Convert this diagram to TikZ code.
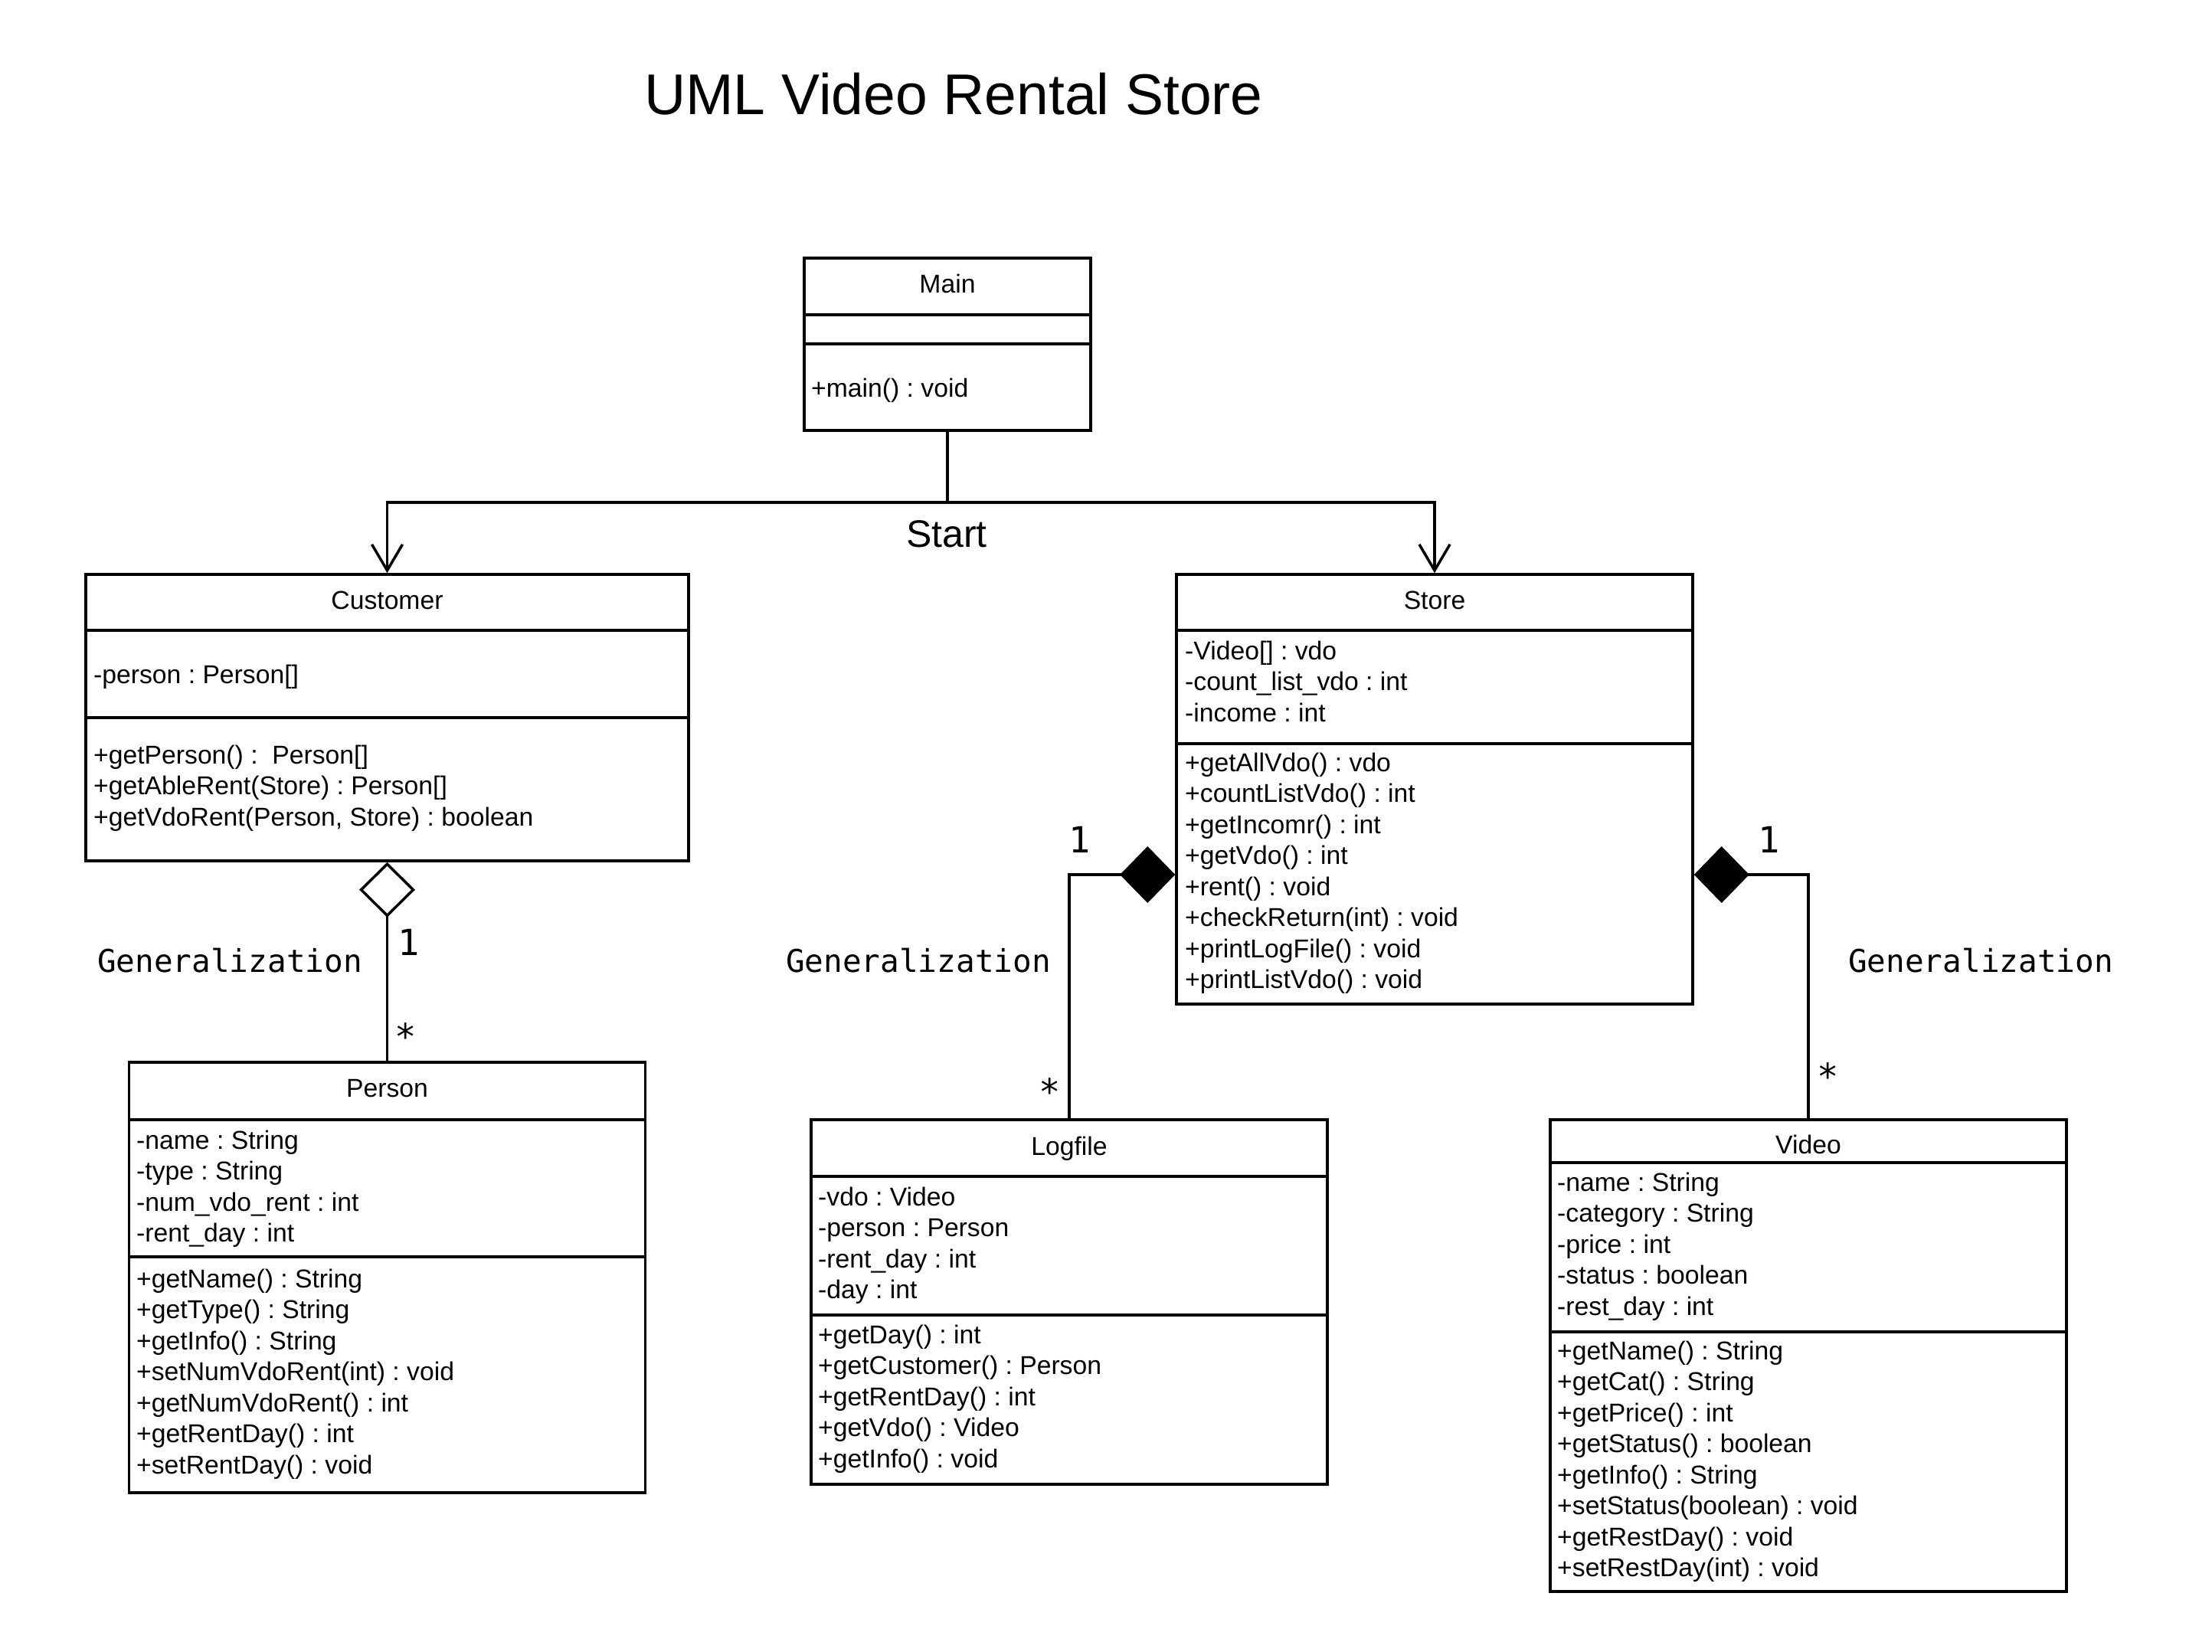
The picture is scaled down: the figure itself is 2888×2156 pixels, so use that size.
\documentclass[tikz,border=0pt]{standalone}
\usepackage{fontspec}
\setmainfont{Liberation Sans}
\newfontfamily\umlmono{DejaVu Sans Mono}
\usetikzlibrary{arrows.meta}
\newcommand{\umlstrut}{\rule[-0.2em]{0pt}{1.1em}}
\frenchspacing
\begin{document}
\begin{tikzpicture}[x=1pt,y=-1pt,
  classbox/.style={draw, line width=3.5pt, inner sep=0pt, fill=white},
  divider/.style={line width=3.5pt},
  conn/.style={line width=3.5pt},
  cname/.style={font=\fontsize{33.7}{40.5}\selectfont, anchor=base, inner sep=0pt},
  members/.style={font=\fontsize{33.7}{40.5}\selectfont, align=left, anchor=west, inner sep=0pt, yshift=-3.5pt,
    execute at begin node=\umlstrut, execute at end node=\umlstrut},
  mult/.style={font=\umlmono\fontsize{47}{50}\selectfont, anchor=base, inner sep=0pt},
  rel/.style={font=\umlmono\fontsize{41}{48}\selectfont, anchor=base west, inner sep=0pt},
  openarrow/.style={-{Straight Barb[length=34pt,width=40pt]}},
  aggr/.style={{Diamond[open,length=72pt,width=73pt]}-},
  comp/.style={{Diamond[length=72pt,width=74pt]}-},
]
\fill[white] (0,0) rectangle (2888,2156);
\useasboundingbox (0,0) rectangle (2888,2156);

% title
\node[font=\fontsize{75}{90}\selectfont, anchor=base, inner sep=0pt] (title) at (1245,149) {UML Video Rental Store};

% Main
\node[classbox, minimum width=374pt, minimum height=225pt] (main) at (1237,449.5) {};
\draw[divider] (1050,411) -- (1424,411);
\draw[divider] (1050,449) -- (1424,449);
\node[cname] (mainname) at (1237,382) {Main};
\node[members] (mainops) at (1059,503) {+main() : void};

% Customer
\node[classbox, minimum width=787pt, minimum height=374pt] (customer) at (505.5,937) {};
\draw[divider] (112,823) -- (899,823);
\draw[divider] (112,937) -- (899,937);
\node[cname] (customername) at (505.5,795) {Customer};
\node[members] (customerattr) at (122,877) {-person : Person[]};
\node[members] (customerops) at (122,1025.5) {+getPerson() :\ \ Person[]\\+getAbleRent(Store) : Person[]\\+getVdoRent(Person, Store) : boolean};

% Store
\node[classbox, minimum width=674pt, minimum height=561pt] (store) at (1873,1030.5) {};
\draw[divider] (1536,823) -- (2210,823);
\draw[divider] (1536,971) -- (2210,971);
\node[cname] (storename) at (1873,795) {Store};
\node[members] (storeattr) at (1547,889.5) {-Video[] : vdo\\-count\_list\_vdo : int\\-income : int};
\node[members] (storeops) at (1547,1136.75) {+getAllVdo() : vdo\\+countListVdo() : int\\+getIncomr() : int\\+getVdo() : int\\+rent() : void\\+checkReturn(int) : void\\+printLogFile() : void\\+printListVdo() : void};

% Person
\node[classbox, minimum width=674pt, minimum height=562pt] (person) at (505.5,1668) {};
\draw[divider] (168.5,1462) -- (842.5,1462);
\draw[divider] (168.5,1641) -- (842.5,1641);
\node[cname] (personname) at (505.5,1432) {Person};
\node[members] (personattr) at (178,1548.75) {-name : String\\-type : String\\-num\_vdo\_rent : int\\-rent\_day : int};
\node[members] (personops) at (178,1790.5) {+getName() : String\\+getType() : String\\+getInfo() : String\\+setNumVdoRent(int) : void\\+getNumVdoRent() : int\\+getRentDay() : int\\+setRentDay() : void};

% Logfile
\node[classbox, minimum width=674pt, minimum height=476pt] (logfile) at (1396,1700) {};
\draw[divider] (1059,1536) -- (1733,1536);
\draw[divider] (1059,1717) -- (1733,1717);
\node[cname] (logfilename) at (1396,1508) {Logfile};
\node[members] (logfileattr) at (1068,1622.75) {-vdo : Video\\-person : Person\\-rent\_day : int\\-day : int};
\node[members] (logfileops) at (1068,1823) {+getDay() : int\\+getCustomer() : Person\\+getRentDay() : int\\+getVdo() : Video\\+getInfo() : void};

% Video
\node[classbox, minimum width=674pt, minimum height=616pt] (video) at (2361,1770) {};
\draw[divider] (2024,1518) -- (2698,1518);
\draw[divider] (2024,1739) -- (2698,1739);
\node[cname] (videoname) at (2361,1506) {Video};
\node[members] (videoattr) at (2033,1624) {-name : String\\-category : String\\-price : int\\-status : boolean\\-rest\_day : int};
\node[members] (videoops) at (2033,1904.75) {+getName() : String\\+getCat() : String\\+getPrice() : int\\+getStatus() : boolean\\+getInfo() : String\\+setStatus(boolean) : void\\+getRestDay() : void\\+setRestDay(int) : void};

% Main -> Customer / Store
\coordinate (junc) at (1237,656);
\draw[conn, openarrow] (main.south) -- (junc) -| (customer.north);
\draw[conn, openarrow] (main.south) -- (junc) -| (store.north);
\node[font=\fontsize{50}{60}\selectfont, anchor=base, inner sep=0pt] (start) at (1236,714) {Start};

% Customer <>- Person
\draw[conn, aggr] (customer.south) -- (person.north);
\node[mult] (m1a) at (534,1247) {1};
\node[mult] (m1b) at (530,1370) {*};
\node[rel] (g1) at (127,1269) {Generalization};

% Store <#>- Logfile
\draw[conn, comp] ([yshift=-111.5pt]store.west) -| (logfile.north);
\node[mult] (m2a) at (1410,1113) {1};
\node[mult] (m2b) at (1371,1442) {*};
\node[rel] (g2) at (1026,1269) {Generalization};

% Store <#>- Video
\draw[conn, comp] ([yshift=-111.5pt]store.east) -| (video.north);
\node[mult] (m3a) at (2310,1113) {1};
\node[mult] (m3b) at (2387,1422) {*};
\node[rel] (g3) at (2413,1269) {Generalization};
\end{tikzpicture}
\end{document}
